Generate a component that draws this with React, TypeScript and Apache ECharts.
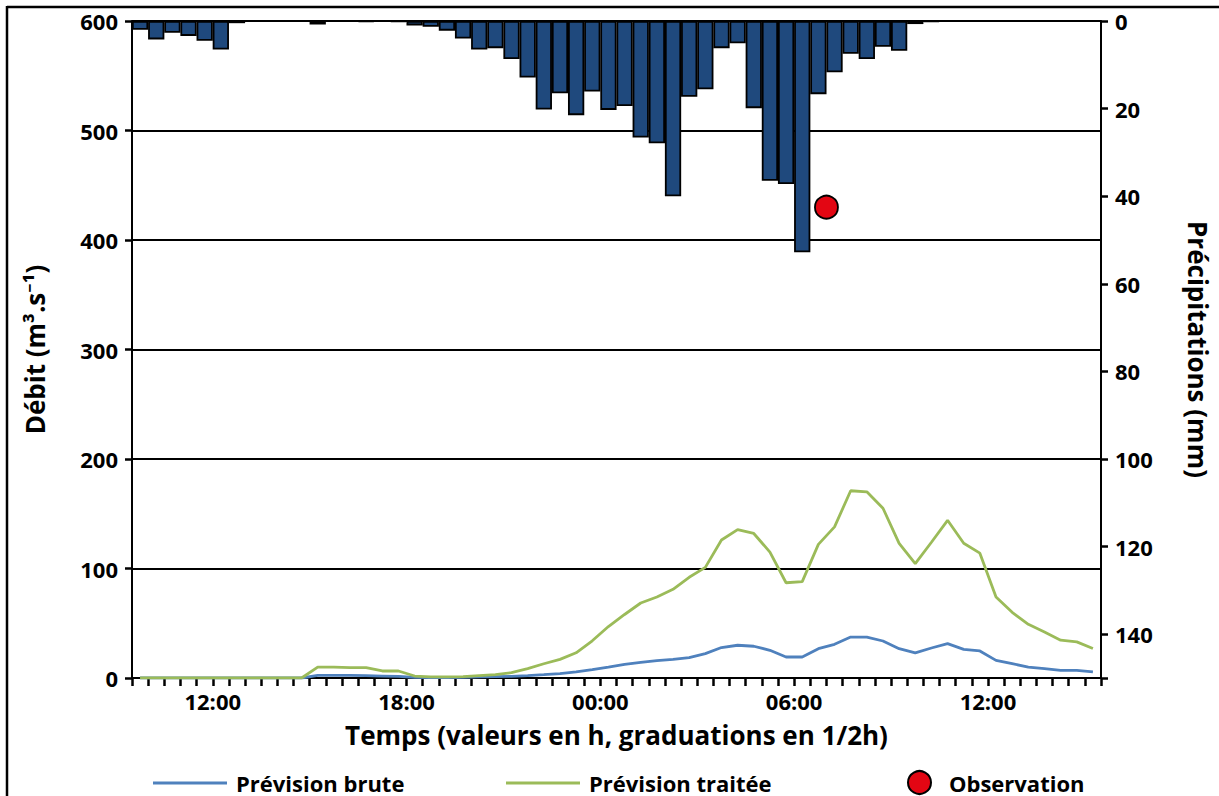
import React, { useEffect, useRef } from "react";
import * as echarts from "echarts";

// Half-hour slots from 09:30 (day 1) to 15:30 (day 2); x values are hours since day-1 midnight
const START_HOUR = 9.5;
const SLOT = 0.5;
const SLOT_COUNT = 60;

// Precipitation per half-hour (mm), inverted right axis
const precipitation = [
  2.0, 4.2, 2.7, 3.4, 4.5, 6.5, 0.5, 0.1, 0.1, 0.1,
  0.1, 0.8, 0.1, 0.1, 0.2, 0.1, 0.2, 1.0, 1.3, 2.2,
  4.0, 6.5, 6.2, 8.7, 12.9, 20.2, 16.5, 21.5, 16.1, 20.3,
  19.4, 26.6, 27.9, 40.0, 17.3, 15.6, 6.2, 5.1, 19.9, 36.5,
  37.2, 52.8, 16.7, 11.7, 7.5, 8.7, 5.9, 6.8, 0.7, 0.2,
  0, 0, 0, 0, 0, 0, 0, 0, 0, 0,
];

// Raw forecast discharge (m3/s)
const previsionBrute = [
  0, 0, 0, 0, 0, 0, 0, 0, 0, 0,
  0, 2.4, 2.4, 2.4, 2.1, 1.8, 1.5, 0.6, 0.3, 0.3,
  0.6, 1.0, 1.2, 1.5, 2.1, 3.0, 4.0, 5.5, 7.6, 10.0,
  12.5, 14.3, 15.9, 17.0, 18.6, 22.3, 27.8, 29.9, 29.0, 25.3,
  19.2, 19.2, 26.8, 30.8, 37.4, 37.4, 33.8, 26.8, 22.9, 27.4,
  31.4, 26.2, 24.7, 16.1, 13.1, 10.0, 8.6, 7.0, 7.0, 5.5,
];

// Processed forecast discharge (m3/s)
const previsionTraitee = [
  0, 0, 0, 0, 0, 0, 0, 0, 0, 0,
  0, 10.0, 10.0, 9.4, 9.4, 6.4, 6.4, 1.8, 1.0, 1.0,
  1.2, 2.1, 3.0, 4.9, 8.5, 13.0, 17.0, 23.0, 34.0, 47.0,
  58.0, 68.5, 74.0, 81.0, 92.0, 101.0, 126.0, 135.5, 132.0, 115.0,
  87.0, 88.0, 122.0, 138.0, 171.0, 170.0, 155.0, 123.0, 104.5, 124.0,
  144.0, 123.0, 114.0, 74.0, 60.0, 49.0, 42.0, 34.5, 33.0, 27.0,
];

// Observation: 07:00 on day 2
const observationTime = [31];
const observationValue = [430];

const labelHours = [12, 18, 24, 30, 36];

const FONT = "'Open Sans', 'Noto Sans', sans-serif";

export default function App() {
  const ref = useRef<HTMLDivElement>(null);

  useEffect(() => {
    if (!ref.current) return;
    const chart = echarts.init(ref.current, null, { renderer: "svg" });

    const xMax = START_HOUR + SLOT * SLOT_COUNT;
    const centers: number[] = [];
    for (let i = 0; i < SLOT_COUNT; i++) centers.push(START_HOUR + SLOT * (i + 0.5));

    const gridLeft = 132;
    const gridRight = 110;
    const plotWidth = 1219 - gridLeft - gridRight;
    const barW = plotWidth / SLOT_COUNT;

    const boldText = { fontFamily: FONT, fontWeight: "bold" as const, color: "#000" };

    const option: any = {
      animation: false,
      backgroundColor: "#fff",
      grid: { left: gridLeft, right: gridRight, top: 21, bottom: 118, containLabel: false },
      xAxis: {
        type: "value",
        min: START_HOUR,
        max: xMax,
        interval: SLOT,
        position: "bottom",
        axisLine: { show: true, onZero: false, lineStyle: { color: "#000", width: 2 } },
        axisTick: {
          show: true,
          inside: false,
          length: 8,
          lineStyle: { color: "#000000", width: 2.5, opacity: 1, type: "solid" },
        },
        splitLine: { show: false },
        axisLabel: {
          ...boldText,
          fontSize: 22,
          margin: 12,
          formatter: (v: number) => {
            const h = Math.round(v * 2) / 2;
            if (labelHours.indexOf(h) >= 0) {
              const hh = h % 24;
              return (hh < 10 ? "0" : "") + hh + ":00";
            }
            return "";
          },
        },
        name: "Temps (valeurs en h, graduations en 1/2h)",
        nameLocation: "middle",
        nameGap: 44,
        nameTextStyle: { ...boldText, fontSize: 26 },
      },
      yAxis: [
        {
          type: "value",
          min: 0,
          max: 600,
          interval: 100,
          position: "left",
          axisLine: { show: true, lineStyle: { color: "#000", width: 2 } },
          axisTick: {
            show: true,
            inside: false,
            length: 7,
            lineStyle: { color: "#000000", width: 2.5, opacity: 1, type: "solid" },
          },
          splitLine: { show: true, lineStyle: { color: "#000", width: 2 } },
          axisLabel: { ...boldText, fontSize: 22, margin: 14 },
          name: "Débit (m³.s⁻¹)",
          nameLocation: "middle",
          nameGap: 84,
          nameTextStyle: { ...boldText, fontSize: 26 },
        },
        {
          type: "value",
          min: 0,
          max: 150,
          interval: 20,
          inverse: true,
          position: "right",
          axisLine: { show: true, lineStyle: { color: "#000", width: 2 } },
          axisTick: {
            show: true,
            inside: false,
            length: 7,
            lineStyle: { color: "#000000", width: 2.5, opacity: 1, type: "solid" },
          },
          splitLine: { show: false },
          axisLabel: {
            ...boldText,
            fontSize: 22,
            margin: 14,
            formatter: (v: number) => (v > 140 ? "" : String(v)),
          },
          name: "Précipitations (mm)",
          nameLocation: "middle",
          nameRotate: -90,
          nameGap: 84,
          nameTextStyle: { ...boldText, fontSize: 26 },
        },
      ],
      legend: [
        {
          data: [{ name: "Prévision brute", icon: "rect" }],
          left: 153,
          top: 772,
          padding: 0,
          itemWidth: 74,
          itemHeight: 3,
          textStyle: { ...boldText, fontSize: 22, padding: [0, 0, 0, 4] },
          selectedMode: false,
        },
        {
          data: [{ name: "Prévision traitée", icon: "rect" }],
          left: 506,
          top: 772,
          padding: 0,
          itemWidth: 74,
          itemHeight: 3,
          textStyle: { ...boldText, fontSize: 22, padding: [0, 0, 0, 4] },
          selectedMode: false,
        },
        {
          data: [{ name: "Observation", icon: "circle" }],
          left: 907,
          top: 770,
          padding: 0,
          itemWidth: 23,
          itemHeight: 23,
          textStyle: { ...boldText, fontSize: 22, padding: [0, 0, 0, 13] },
          selectedMode: false,
        },
      ],
      series: [
        {
          name: "Précipitations",
          type: "bar",
          xAxisIndex: 0,
          yAxisIndex: 1,
          barWidth: barW,
          data: precipitation.map((v, i) => [centers[i], v]),
          itemStyle: { color: "#1f497d", borderColor: "#000", borderWidth: 1.8 },
          z: 2,
        },
        {
          name: "Prévision brute",
          type: "line",
          xAxisIndex: 0,
          yAxisIndex: 0,
          data: previsionBrute.map((v, i) => [centers[i], v]),
          showSymbol: false,
          symbol: "none",
          lineStyle: { color: "#4f81bd", width: 2.8 },
          itemStyle: { color: "#4f81bd" },
          z: 3,
        },
        {
          name: "Prévision traitée",
          type: "line",
          xAxisIndex: 0,
          yAxisIndex: 0,
          data: previsionTraitee.map((v, i) => [centers[i], v]),
          showSymbol: false,
          symbol: "none",
          lineStyle: { color: "#9bbb59", width: 2.8 },
          itemStyle: { color: "#9bbb59" },
          z: 3,
        },
        {
          name: "Observation",
          type: "scatter",
          xAxisIndex: 0,
          yAxisIndex: 0,
          data: observationTime.map((t, i) => [t, observationValue[i]]),
          symbol: "circle",
          symbolSize: 23,
          itemStyle: { color: "#e30613", borderColor: "#000", borderWidth: 1.8, opacity: 1 },
          z: 4,
        },
      ],
      graphic: [
        {
          type: "line",
          shape: { x1: 7, y1: 7, x2: 1219, y2: 7 },
          style: { stroke: "#000", lineWidth: 2.5 },
          silent: true,
        },
        {
          type: "line",
          shape: { x1: 7, y1: 6, x2: 7, y2: 796 },
          style: { stroke: "#000", lineWidth: 2.5 },
          silent: true,
        },
      ],
    };

    chart.setOption(option);
    return () => chart.dispose();
  }, []);

  return (
    <div
      ref={ref}
      style={{ position: "fixed", left: 0, top: 0, width: 1219, height: 796, background: "#fff" }}
    />
  );
}
